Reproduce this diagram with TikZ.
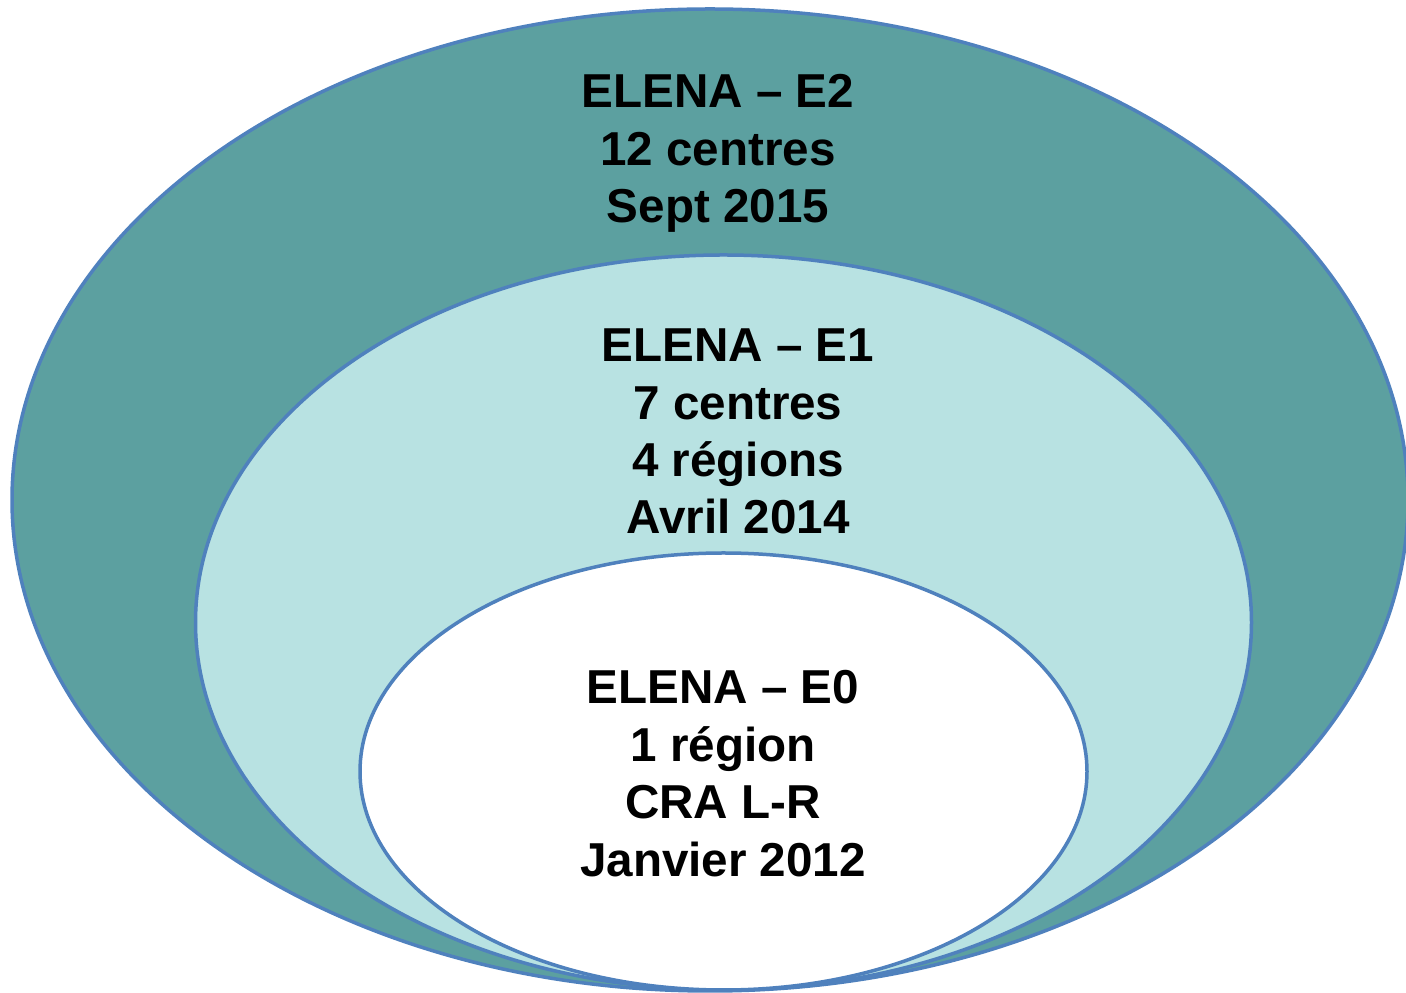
\documentclass[tikz,border=0pt]{standalone}
\usepackage{fontspec}
\setmainfont{Liberation Sans}
\definecolor{outerfill}{HTML}{5CA0A0}
\definecolor{midfill}{HTML}{B8E2E2}
\definecolor{edge}{HTML}{4F81BD}
\begin{document}
\begin{tikzpicture}[x=1pt,y=1pt,
  ring/.style={draw=edge,line width=3.5pt},
  lbl/.style={anchor=base,inner sep=0pt,font=\fontsize{47.6}{57}\selectfont\bfseries,text=black}]
\useasboundingbox (0,0) rectangle (1406,993);
\draw[ring,fill=outerfill] (710,493) ellipse [x radius=698,y radius=491];
\draw[ring,fill=midfill] (723.5,370.5) ellipse [x radius=528,y radius=367.5];
\draw[ring,fill=white] (723.5,221.5) ellipse [x radius=363.5,y radius=218.5];
% E2
\node[lbl] (e2a) at (718,885) {ELENA – E2};
\node[lbl] (e2b) at (718,827) {12 centres};
\node[lbl] (e2c) at (718,770) {Sept 2015};
% E1
\node[lbl] (e1a) at (738,631) {ELENA – E1};
\node[lbl] (e1b) at (738,573) {7 centres};
\node[lbl] (e1c) at (738,516) {4 régions};
\node[lbl] (e1d) at (738,459) {Avril 2014};
% E0
\node[lbl] (e0a) at (723,289) {ELENA – E0};
\node[lbl] (e0b) at (723,231) {1 région};
\node[lbl] (e0c) at (723,174) {CRA L-R};
\node[lbl] (e0d) at (723,116) {Janvier 2012};
\end{tikzpicture}
\end{document}
